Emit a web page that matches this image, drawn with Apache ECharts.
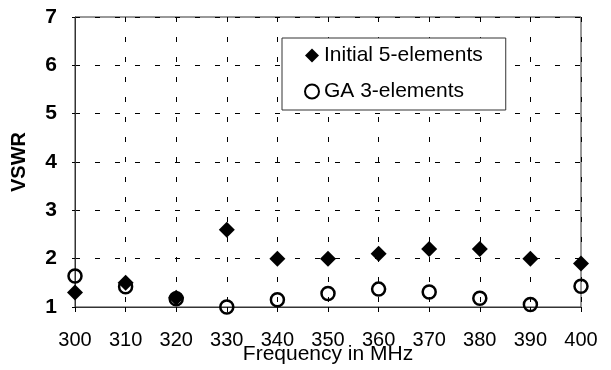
<!DOCTYPE html>
<html>
<head>
<meta charset="utf-8">
<script src="https://cdn.jsdelivr.net/npm/echarts@6/dist/echarts.min.js"></script>
<style>
  html, body { margin: 0; padding: 0; background: #fff; }
  #chart { width: 611px; height: 370px; }
</style>
</head>
<body>
<div id="chart"></div>
<script>
// frequency in MHz
var freqs = [300, 310, 320, 330, 340, 350, 360, 370, 380, 390, 400]
var initial5 = [1.3, 1.5, 1.19, 2.6, 2.0, 2.0, 2.1, 2.2, 2.2, 2.0, 1.9]
var ga3 = [1.64, 1.42, 1.17, 1.0, 1.15, 1.28, 1.37, 1.31, 1.18, 1.05, 1.43]

function pairs(ys) {
  return freqs.map(function(f, i) { return [f, ys[i]] })
}

var chart = echarts.init(document.getElementById('chart'))
var font = 'Liberation Sans, Arial, sans-serif'
var dash = { color: '#000', width: 1, type: [5, 15] }

chart.setOption({
  animation: false,
  textStyle: { fontFamily: font, color: '#000' },
  grid: {
    left: 75,
    right: 30,
    top: 17,
    bottom: 63,
    outerBoundsMode: 'none',
    containLabel: false,
    show: true,
    borderColor: '#333',
    borderWidth: 1
  },
  legend: {
    left: 282,
    top: 38,
    orient: 'vertical',
    padding: [7, 23, 8, 22],
    itemGap: 15,
    itemWidth: 14,
    itemHeight: 14,
    backgroundColor: '#fff',
    borderColor: '#333',
    borderWidth: 1,
    textStyle: { fontSize: 21, color: '#000', fontFamily: font },
    data: [
      { name: 'Initial 5-elements', icon: 'diamond' },
      { name: 'GA 3-elements', icon: 'circle' }
    ]
  },
  xAxis: {
    type: 'value',
    min: 300,
    max: 400,
    interval: 10,
    name: 'Frequency in MHz',
    nameLocation: 'middle',
    nameGap: 37,
    nameMoveOverlap: false,
    nameTextStyle: { fontSize: 21, color: '#000' },
    axisLine: { lineStyle: { color: '#333', width: 1 } },
    axisTick: { show: true, length: 5, lineStyle: { color: '#000' } },
    axisLabel: { fontSize: 20, color: '#000', margin: 23 },
    splitLine: { show: true, lineStyle: dash }
  },
  yAxis: {
    type: 'value',
    min: 1,
    max: 7,
    interval: 1,
    name: 'VSWR',
    nameLocation: 'middle',
    nameGap: 46,
    nameMoveOverlap: false,
    nameTextStyle: { fontSize: 20, fontWeight: 'bold', color: '#000' },
    axisLine: { show: true, lineStyle: { color: '#333', width: 1 } },
    axisTick: { show: true, length: 6, lineStyle: { color: '#000', type: [3, 3] } },
    axisLabel: { fontSize: 21, fontWeight: 'bold', color: '#000', margin: 18 },
    splitLine: { show: true, lineStyle: dash }
  },
  series: [
    {
      name: 'Initial 5-elements',
      type: 'scatter',
      symbol: 'diamond',
      symbolSize: 16,
      itemStyle: { color: '#000', opacity: 1 },
      data: pairs(initial5)
    },
    {
      name: 'GA 3-elements',
      type: 'scatter',
      symbol: 'circle',
      symbolSize: 13,
      itemStyle: { color: 'rgba(0,0,0,0)', borderColor: '#000', borderWidth: 2.5, opacity: 1 },
      data: pairs(ga3)
    }
  ]
})
</script>
</body>
</html>
